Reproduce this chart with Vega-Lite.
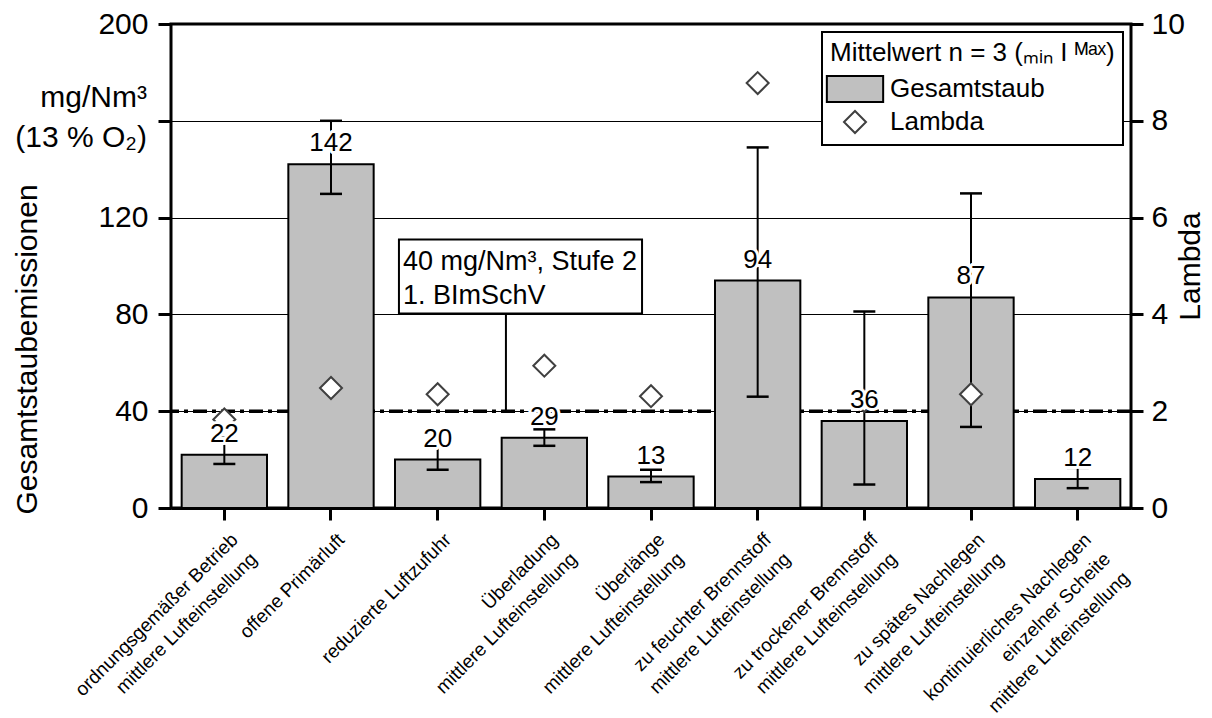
{
  "$schema": "https://vega.github.io/schema/vega-lite/v6.json",
  "width": 960,
  "height": 484,
  "autosize": "none",
  "padding": {"left": 171, "top": 24, "right": 81, "bottom": 210},
  "background": "white",
  "datasets": {
    "tests": [
      {"case": "ordnungsgemäßer Betrieb|mittlere Lufteinstellung", "staub": 22, "min": 18.2, "max": 29.0, "lambda": 1.83},
      {"case": "offene Primärluft", "staub": 142, "min": 129.8, "max": 160, "lambda": 2.48},
      {"case": "reduzierte Luftzufuhr", "staub": 20, "min": 15.8, "max": 26.3, "lambda": 2.35},
      {"case": "Überladung|mittlere Lufteinstellung", "staub": 29, "min": 25.7, "max": 32.5, "lambda": 2.94},
      {"case": "Überlänge|mittlere Lufteinstellung", "staub": 13, "min": 10.7, "max": 15.8, "lambda": 2.31},
      {"case": "zu feuchter Brennstoff|mittlere Lufteinstellung", "staub": 94, "min": 46, "max": 149, "lambda": 8.78},
      {"case": "zu trockener Brennstoff|mittlere Lufteinstellung", "staub": 36, "min": 9.7, "max": 81.2, "lambda": 2.21},
      {"case": "zu spätes Nachlegen|mittlere Lufteinstellung", "staub": 87, "min": 33.5, "max": 130, "lambda": 2.35},
      {"case": "kontinuierliches Nachlegen|einzelner Scheite|mittlere Lufteinstellung", "staub": 12, "min": 8.2, "max": 16.6, "lambda": null}
    ],
    "limit": [
      {"x_start": 2.137, "x_end": 4.416, "y_low": 80.4, "y_high": 111, "x_link": 3.14, "limit": 40, "line1": "40 mg/Nm³, Stufe 2", "line2": "1. BImSchV"}
    ]
  },
  "layer": [
    {
      "data": {"name": "limit"},
      "layer": [
        {
          "mark": {"type": "rule", "color": "black", "strokeWidth": 3.5, "strokeDash": [14, 5, 4, 5]},
          "encoding": {
            "y": {"field": "limit", "type": "quantitative", "scale": {"domain": [0, 200], "nice": false}, "axis": null}
          }
        },
        {
          "mark": {"type": "rule", "color": "black", "strokeWidth": 2},
          "encoding": {
            "x": {"field": "x_link", "type": "quantitative", "scale": {"domain": [0, 9], "nice": false, "zero": false}, "axis": null},
            "y": {"field": "y_low", "type": "quantitative", "axis": null},
            "y2": {"field": "limit"}
          }
        }
      ]
    },
    {
      "data": {"name": "tests"},
      "encoding": {
        "x": {
          "field": "case", "type": "nominal", "sort": null, "title": null,
          "scale": {
            "domain": [
              "ordnungsgemäßer Betrieb|mittlere Lufteinstellung",
              "offene Primärluft",
              "reduzierte Luftzufuhr",
              "Überladung|mittlere Lufteinstellung",
              "Überlänge|mittlere Lufteinstellung",
              "zu feuchter Brennstoff|mittlere Lufteinstellung",
              "zu trockener Brennstoff|mittlere Lufteinstellung",
              "zu spätes Nachlegen|mittlere Lufteinstellung",
              "kontinuierliches Nachlegen|einzelner Scheite|mittlere Lufteinstellung"
            ],
            "paddingInner": 0.2, "paddingOuter": 0.1
          },
          "axis": {
            "orient": "bottom", "labelAngle": -45, "labelAlign": "right", "labelBaseline": "top",
            "labelFontSize": 19, "labelLineHeight": 27, "labelPadding": 10, "labelOffset": 4, "labelLimit": 500,
            "labelOverlap": false, "labelBound": false, "labelExpr": "split(datum.label, '|')",
            "tickSize": 12, "tickWidth": 3, "domain": true, "domainWidth": 3, "zindex": 1
          }
        }
      },
      "layer": [
        {
          "mark": {"type": "bar", "strokeWidth": 2},
          "encoding": {
            "y": {
              "field": "staub", "type": "quantitative", "title": "Gesamtstaubemissionen",
              "scale": {"domain": [0, 200], "nice": false},
              "axis": {
                "orient": "left", "values": [0, 40, 80, 120, 160, 200], "grid": true, "gridColor": "black", "gridWidth": 1.2,
                "labelExpr": "datum.value == 160 ? '' : datum.label",
                "tickSize": 13, "tickWidth": 3, "domain": false, "labelFontSize": 30, "labelPadding": 10,
                "titleFontSize": 30, "titlePadding": 55, "titleY": 325
              }
            },
            "fill": {
              "datum": "Gesamtstaub",
              "scale": {"domain": ["Gesamtstaub", "Lambda"], "range": ["#c0c0c0", "#ffffff"]},
              "legend": {
                "title": "Mittelwert n = 3 (ₘᵢₙ I ᴹᵃˣ)", "orient": "top-right", "offset": 8,
                "fillColor": "white", "strokeColor": "black", "padding": 8,
                "titleFontSize": 26, "titleFontWeight": "normal", "titleLimit": 500, "titlePadding": 10,
                "labelFontSize": 26, "labelLimit": 400, "symbolSize": 484, "symbolStrokeWidth": 2,
                "rowPadding": 0, "labelOffset": 22, "symbolOffset": 12
              }
            },
            "stroke": {
              "datum": "Gesamtstaub",
              "scale": {"domain": ["Gesamtstaub", "Lambda"], "range": ["#000000", "#404040"]}
            }
          }
        },
        {
          "mark": {"type": "rule", "color": "black", "strokeWidth": 2},
          "encoding": {
            "y": {"field": "min", "type": "quantitative", "title": "Gesamtstaubemissionen"},
            "y2": {"field": "max"}
          }
        },
        {
          "mark": {"type": "tick", "color": "black", "thickness": 2.5, "size": 22, "orient": "horizontal", "opacity": 1},
          "encoding": {"y": {"field": "min", "type": "quantitative", "title": "Gesamtstaubemissionen"}}
        },
        {
          "mark": {"type": "tick", "color": "black", "thickness": 2.5, "size": 22, "orient": "horizontal", "opacity": 1},
          "encoding": {"y": {"field": "max", "type": "quantitative", "title": "Gesamtstaubemissionen"}}
        }
      ]
    },
    {
      "data": {"name": "tests"},
      "mark": {"type": "point", "filled": true, "opacity": 1, "strokeWidth": 2, "size": 484},
      "encoding": {
        "x": {
          "field": "case", "type": "nominal", "sort": null, "axis": null,
          "scale": {
            "domain": [
              "ordnungsgemäßer Betrieb|mittlere Lufteinstellung",
              "offene Primärluft",
              "reduzierte Luftzufuhr",
              "Überladung|mittlere Lufteinstellung",
              "Überlänge|mittlere Lufteinstellung",
              "zu feuchter Brennstoff|mittlere Lufteinstellung",
              "zu trockener Brennstoff|mittlere Lufteinstellung",
              "zu spätes Nachlegen|mittlere Lufteinstellung",
              "kontinuierliches Nachlegen|einzelner Scheite|mittlere Lufteinstellung"
            ],
            "paddingInner": 0.2, "paddingOuter": 0.1
          }
        },
        "y": {
          "field": "lambda", "type": "quantitative", "title": "Lambda",
          "scale": {"domain": [0, 10], "nice": false},
          "axis": {
            "orient": "right", "values": [0, 2, 4, 6, 8, 10], "grid": false,
            "tickSize": 12, "tickWidth": 3, "domain": false, "labelFontSize": 30, "labelPadding": 8,
            "titleFontSize": 30, "titleAngle": -90, "titleBaseline": "top", "titleAlign": "center", "titleX": 44
          }
        },
        "fill": {"datum": "Lambda"},
        "stroke": {"datum": "Lambda"},
        "shape": {
          "datum": "Lambda",
          "scale": {"domain": ["Gesamtstaub", "Lambda"], "range": ["M-2.56,-1.19H2.56V1.19H-2.56Z", "diamond"]}
        }
      }
    },
    {
      "data": {"name": "tests"},
      "encoding": {
        "x": {
          "field": "case", "type": "nominal", "sort": null, "axis": null,
          "scale": {
            "domain": [
              "ordnungsgemäßer Betrieb|mittlere Lufteinstellung",
              "offene Primärluft",
              "reduzierte Luftzufuhr",
              "Überladung|mittlere Lufteinstellung",
              "Überlänge|mittlere Lufteinstellung",
              "zu feuchter Brennstoff|mittlere Lufteinstellung",
              "zu trockener Brennstoff|mittlere Lufteinstellung",
              "zu spätes Nachlegen|mittlere Lufteinstellung",
              "kontinuierliches Nachlegen|einzelner Scheite|mittlere Lufteinstellung"
            ],
            "paddingInner": 0.2, "paddingOuter": 0.1
          }
        },
        "y": {"field": "staub", "type": "quantitative", "scale": {"domain": [0, 200], "nice": false}, "axis": null},
        "text": {"field": "staub", "type": "quantitative"}
      },
      "layer": [
        {"mark": {"type": "text", "fontSize": 26, "baseline": "middle", "dy": -21, "fill": "white", "stroke": "white", "strokeWidth": 6, "strokeJoin": "round"}},
        {"mark": {"type": "text", "fontSize": 26, "baseline": "middle", "dy": -21, "fill": "black"}}
      ]
    },
    {
      "data": {"name": "limit"},
      "layer": [
        {
          "mark": {"type": "rect", "fill": "white", "stroke": "black", "strokeWidth": 2},
          "encoding": {
            "x": {"field": "x_start", "type": "quantitative", "scale": {"domain": [0, 9], "nice": false, "zero": false}, "axis": null},
            "x2": {"field": "x_end"},
            "y": {"field": "y_low", "type": "quantitative", "scale": {"domain": [0, 200], "nice": false}, "axis": null},
            "y2": {"field": "y_high"}
          }
        },
        {
          "mark": {"type": "text", "align": "left", "baseline": "middle", "fontSize": 27, "dx": 4, "dy": 23, "fill": "black"},
          "encoding": {
            "x": {"field": "x_start", "type": "quantitative"},
            "y": {"field": "y_high", "type": "quantitative"},
            "text": {"field": "line1"}
          }
        },
        {
          "mark": {"type": "text", "align": "left", "baseline": "middle", "fontSize": 27, "dx": 4, "dy": 57, "fill": "black"},
          "encoding": {
            "x": {"field": "x_start", "type": "quantitative"},
            "y": {"field": "y_high", "type": "quantitative"},
            "text": {"field": "line2"}
          }
        },
        {
          "mark": {"type": "text", "align": "right", "baseline": "middle", "fontSize": 30, "dx": -24, "fill": "black"},
          "encoding": {
            "x": {"datum": 0, "type": "quantitative"},
            "y": {"datum": 169.6, "type": "quantitative"},
            "text": {"value": "mg/Nm³"}
          }
        },
        {
          "mark": {"type": "text", "align": "right", "baseline": "middle", "fontSize": 30, "dx": -24, "fill": "black"},
          "encoding": {
            "x": {"datum": 0, "type": "quantitative"},
            "y": {"datum": 152.7, "type": "quantitative"},
            "text": {"value": "(13 % O₂)"}
          }
        }
      ]
    }
  ],
  "resolve": {"scale": {"x": "independent", "y": "independent"}},
  "config": {
    "font": "Liberation Sans",
    "view": {"stroke": "black", "strokeWidth": 3},
    "text": {"font": "Liberation Sans"},
    "axis": {
      "labelFont": "Liberation Sans", "titleFont": "Liberation Sans", "labelColor": "black", "titleColor": "black",
      "tickColor": "black", "domainColor": "black", "titleFontWeight": "normal"
    },
    "legend": {"labelFont": "Liberation Sans", "titleFont": "Liberation Sans", "labelColor": "black", "titleColor": "black", "strokeWidth": 2}
  }
}
